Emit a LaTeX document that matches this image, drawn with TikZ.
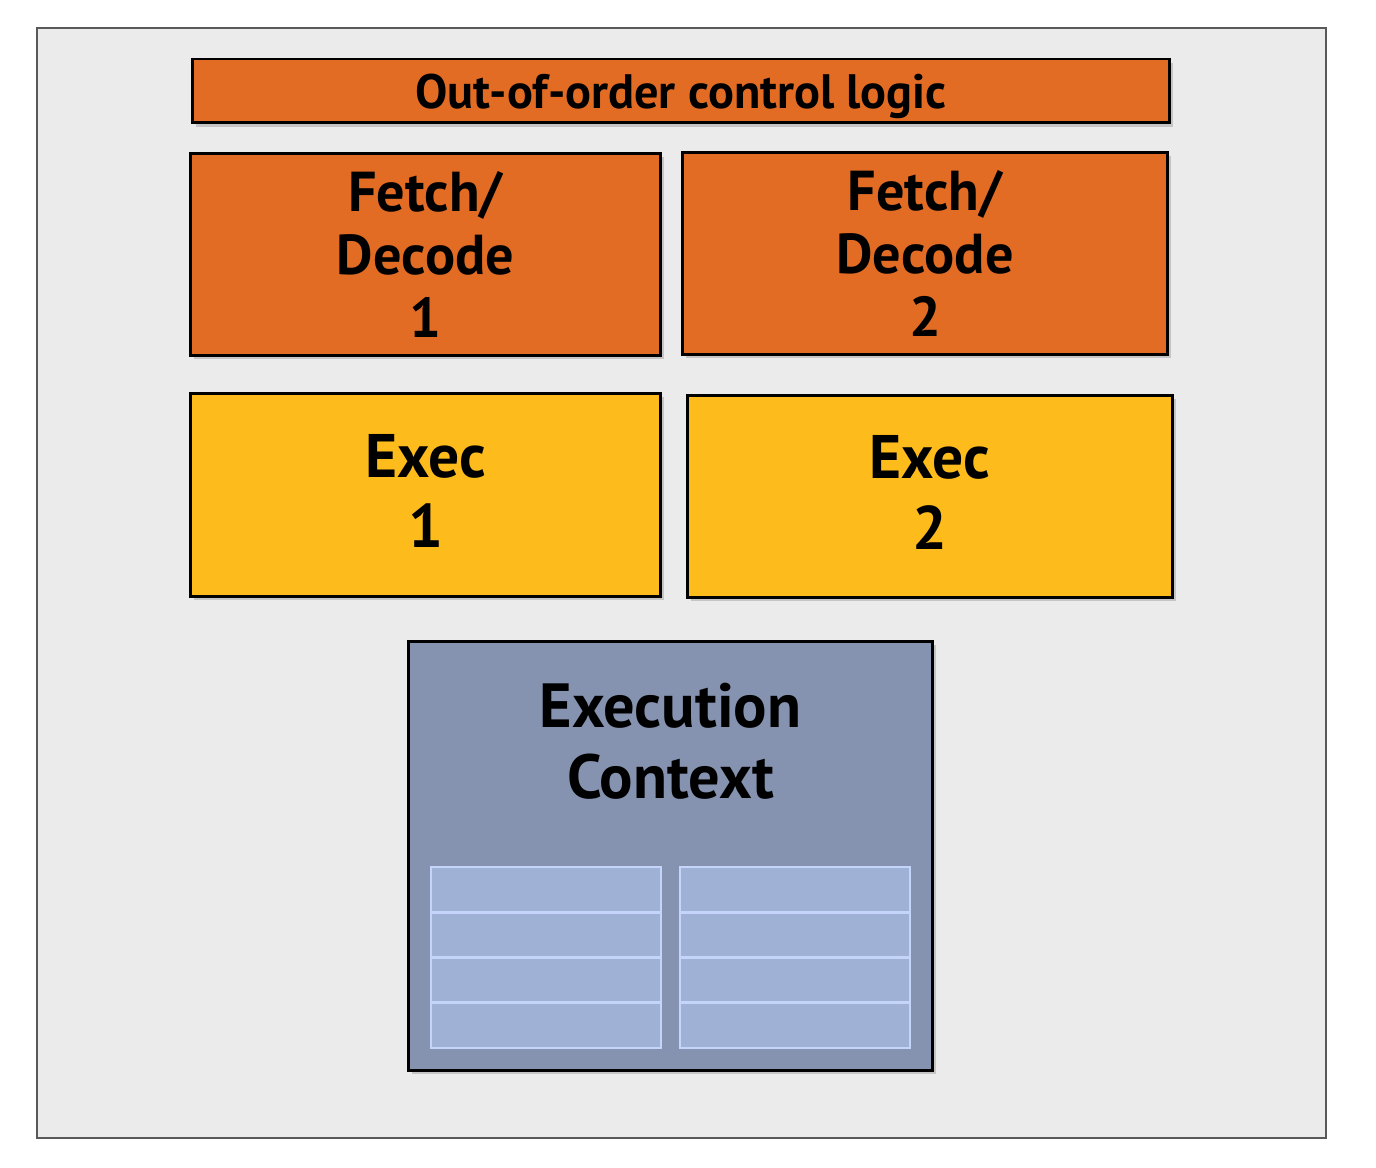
\documentclass[tikz,border=0pt]{standalone}
\usepackage{fontspec}
\setmainfont{PT Sans}
\usetikzlibrary{shadows}
\definecolor{colorFrame}{HTML}{EBEBEB}
\definecolor{colorControl}{HTML}{E36C25}
\definecolor{colorExec}{HTML}{FDBB1C}
\definecolor{colorContext}{HTML}{8693B0}
\definecolor{colorReg}{HTML}{9FB1D4}
\definecolor{colorRegLine}{HTML}{C4D4FA}
\tikzset{
  unit/.style={draw=black, line width=1.7pt, rectangle, align=center, font=\bfseries,
    drop shadow={shadow xshift=2pt, shadow yshift=-2pt, opacity=0.35}},
  reg/.style={draw=colorRegLine, fill=colorReg, line width=1.5pt}
}

\begin{document}
\begin{tikzpicture}[x=0.02cm, y=-0.02cm]
\useasboundingbox (0,0) rectangle (1376,1168);
\fill[white] (0,0) rectangle (1376,1168);
\draw[fill=colorFrame, draw=black!65, line width=1.1pt] (37,28) rectangle (1326,1138);
\node[unit, fill=colorControl, minimum width=19.56cm, minimum height=1.28cm, text depth=0pt, font=\bfseries\fontsize{27.5}{30}\selectfont] (ctl) at (681,91) {Out-of-order control logic};
\node[unit, fill=colorControl, minimum width=9.42cm, minimum height=4.06cm, font=\bfseries\fontsize{32}{36}\selectfont] (fd1) at (425.5,254.5) {Fetch/\\Decode\\1};
\node[unit, fill=colorControl, minimum width=9.72cm, minimum height=4.06cm, font=\bfseries\fontsize{32}{36}\selectfont] (fd2) at (925,253.5) {Fetch/\\Decode\\2};
\node[unit, fill=colorExec, minimum width=9.42cm, minimum height=4.08cm, text depth=0.16cm, font=\bfseries\fontsize{35}{40}\selectfont] (ex1) at (425.5,495) {Exec\\1};
\node[unit, fill=colorExec, minimum width=9.72cm, minimum height=4.06cm, text depth=0.16cm, font=\bfseries\fontsize{35}{40}\selectfont] (ex2) at (930,496.5) {Exec\\2};
\node[unit, fill=colorContext, minimum width=10.5cm, minimum height=8.6cm] (ctx) at (670.5,856) {};
\node[align=center, font=\bfseries\fontsize{35.5}{40.5}\selectfont] (ctxlabel) at (670.5,741) {Execution\\Context};
\foreach \c in {431,680}
  \foreach \r in {0,...,3}
    \draw[reg] (\c,867+\r*45.25) rectangle (\c+230,867+\r*45.25+45.25);
\end{tikzpicture}
\end{document}
